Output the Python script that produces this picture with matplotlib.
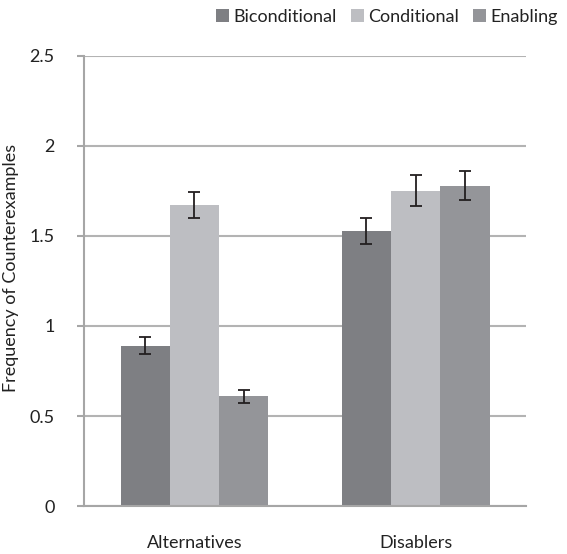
import matplotlib
matplotlib.use("Agg")
import matplotlib.pyplot as plt
import numpy as np

# Mittelwerte und Standardfehler je Bedingung
categories = ["Alternatives", "Disablers"]
conditions = ["Biconditional", "Conditional", "Enabling"]
means = {
    "Biconditional": [0.89, 1.53],
    "Conditional": [1.67, 1.75],
    "Enabling": [0.61, 1.78],
}
errors = {
    "Biconditional": [0.048, 0.072],
    "Conditional": [0.072, 0.086],
    "Enabling": [0.036, 0.080],
}
colors = {
    "Biconditional": "#7e7f83",
    "Conditional": "#bdbec2",
    "Enabling": "#949599",
}

plt.rcParams["font.family"] = ["Lato", "DejaVu Sans"]
fs = 13

fig = plt.figure(figsize=(5.67, 5.54), dpi=100)
ax = fig.add_axes([0.148, 0.0866, 0.78, 0.8124])

x = np.arange(len(categories))
w = 0.223
for i, c in enumerate(conditions):
    ax.bar(x + (i - 1) * w, means[c], w, color=colors[c], label=c, zorder=2,
           yerr=errors[c], capsize=4.5,
           error_kw=dict(ecolor="#231f20", elinewidth=1.3, capthick=1.3, zorder=3))

ax.set_xlim(-0.5, 1.5)
ax.set_ylim(0, 2.5)
ax.set_yticks([0, 0.5, 1, 1.5, 2, 2.5])
ax.set_yticklabels(["0", "0.5", "1", "1.5", "2", "2.5"])
ax.set_xticks(x)
ax.set_xticklabels(categories)

# Gitterlinien und Achsen
ax.yaxis.grid(True, color="#b3b3b3", linewidth=1.5, zorder=0)
ax.set_axisbelow(True)
for s in ["top", "right"]:
    ax.spines[s].set_visible(False)
ax.spines["left"].set_color("#a6a6a6")
ax.spines["left"].set_linewidth(1.5)
ax.spines["bottom"].set_color("#a6a6a6")
ax.spines["bottom"].set_linewidth(1.5)
ax.tick_params(axis="y", length=5, width=1.5, color="#a6a6a6", pad=16,
               labelsize=fs, labelcolor="#222222")
ax.tick_params(axis="x", length=0, pad=21, labelsize=fs, labelcolor="#222222")

ax.set_ylabel("Frequency of Counterexamples", fontsize=fs, color="#222222")
ax.yaxis.set_label_coords((19 - 84) / 442, 0.53)

leg = fig.legend(loc="upper right", bbox_to_anchor=(1.0, 1.0), ncol=3, frameon=False,
                 fontsize=fs, handlelength=0.7, handleheight=0.7,
                 handletextpad=0.25, columnspacing=0.8, borderaxespad=0.1)
for t in leg.get_texts():
    t.set_color("#222222")

fig.savefig("out.png", dpi=100)
